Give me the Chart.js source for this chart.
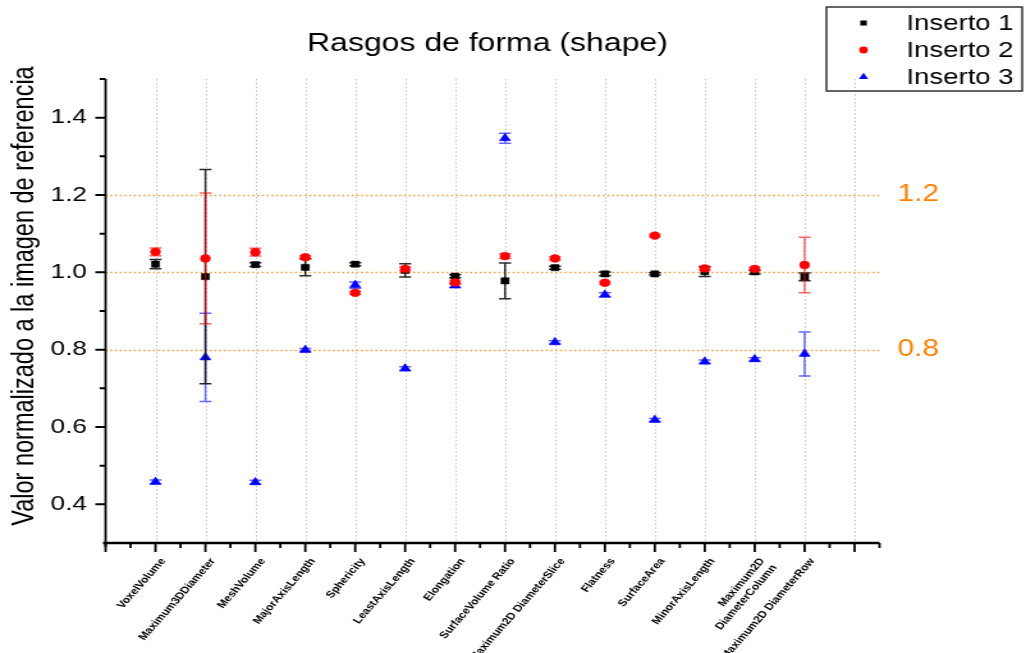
<!DOCTYPE html>
<html>
<head>
<meta charset="utf-8">
<title>Rasgos de forma (shape)</title>
<script src="https://cdn.jsdelivr.net/npm/chart.js@4.4.1/dist/chart.umd.min.js"></script>
<style>
  html, body { margin: 0; padding: 0; background: #fff; overflow: hidden; }
  #wrap { position: absolute; left: 0; top: 0; width: 802px; height: 653px;
          transform: scaleX(1.2793); transform-origin: 0 0; }
  canvas { display: block; }
</style>
</head>
<body>
<div id="wrap"><canvas id="c" width="802" height="653"></canvas></div>
<script>
// Shape features (x axis categories)
const categories = [
  'VoxelVolume', 'Maximum3DDiameter', 'MeshVolume', 'MajorAxisLength', 'Sphericity',
  'LeastAxisLength', 'Elongation', 'SurfaceVolume Ratio', 'Maximum2D DiameterSlice',
  'Flatness', 'SurfaceArea', 'MinorAxisLength', ['Maximum2D', 'DiameterColumn'],
  'Maximum2D DiameterRow'
];

const seriesNames = ['Inserto 1', 'Inserto 2', 'Inserto 3'];

// Values normalised to the reference image, with their error
const inserto1    = [1.021, 0.989, 1.020, 1.013, 1.021, 1.005, 0.990, 0.978, 1.012, 0.996, 0.996, 1.002, 1.001, 0.988];
const inserto1Err = [0.012, 0.277, 0.005, 0.022, 0.004, 0.017, 0.004, 0.046, 0.004, 0.005, 0.003, 0.013, 0.005, 0.010];

const inserto2    = [1.053, 1.036, 1.052, 1.039, 0.947, 1.009, 0.974, 1.042, 1.036, 0.973, 1.095, 1.010, 1.009, 1.019];
const inserto2Err = [0.010, 0.169, 0.010, 0.004, 0.004, 0.005, 0.005, 0.006, 0.004, 0.003, 0.003, 0.004, 0.004, 0.072];

const inserto3    = [0.458, 0.780, 0.457, 0.799, 0.967, 0.751, 0.966, 1.347, 0.819, 0.942, 0.618, 0.769, 0.775, 0.789];
const inserto3Err = [0.005, 0.114, 0.005, 0.004, 0.008, 0.005, 0.005, 0.013, 0.004, 0.005, 0.004, 0.004, 0.004, 0.057];

// Axis ticks and reference lines
const yTickValues  = [0.3, 0.4, 0.5, 0.6, 0.7, 0.8, 0.9, 1.0, 1.1, 1.2, 1.3, 1.4, 1.5];
const yLabelValues = [0.4, 0.6, 0.8, 1.0, 1.2, 1.4];
const refLines  = [0.8, 1.0, 1.2];
const refLabels = [0.8, 1.2];

const chartTitle = 'Rasgos de forma (shape)';
const yTitle = 'Valor normalizado a la imagen de referencia';

const FONT = "'Liberation Sans', Arial, Helvetica, sans-serif";
const ORANGE_TEXT = '#ff8000';
const ORANGE_LINE = '#fa9f45';

const toPoints = vals => vals.map((v, i) => ({ x: i + 1, y: v }));

function dotted(ctx, x1, y1, x2, y2, color, width, dash) {
  ctx.save();
  ctx.strokeStyle = color;
  ctx.lineWidth = width;
  ctx.setLineDash(dash);
  ctx.beginPath();
  ctx.moveTo(x1, y1);
  ctx.lineTo(x2, y2);
  ctx.stroke();
  ctx.restore();
}

const decorations = {
  id: 'decorations',
  beforeDatasetsDraw(chart) {
    const { ctx, chartArea: a, scales: { x, y } } = chart;
    // vertical dotted grid at each category slot
    for (let i = 1; i <= 15; i++) {
      const px = Math.round(x.getPixelForValue(i)) + 0.5;
      dotted(ctx, px, a.top, px, a.bottom, '#c4c4c4', 1, [1.6, 2.2]);
    }
    // orange reference lines
    refLines.forEach(v => {
      const py = Math.round(y.getPixelForValue(v)) + 0.5;
      dotted(ctx, a.left, py, a.right, py, ORANGE_LINE, 1.3, [1.6, 2.1]);
    });
  },
  beforeDatasetDraw(chart, args) {
    const ds = chart.data.datasets[args.index];
    const { ctx, scales: { x, y } } = chart;
    ctx.save();
    ctx.strokeStyle = ds.errorColor;
    ctx.lineWidth = 1.5;
    const cap = 4.7;
    ds.data.forEach((p, i) => {
      const e = ds.errors[i];
      const px = x.getPixelForValue(p.x);
      const yt = y.getPixelForValue(p.y + e);
      const yb = y.getPixelForValue(p.y - e);
      ctx.beginPath();
      ctx.moveTo(px, yt); ctx.lineTo(px, yb);
      ctx.moveTo(px - cap, yt); ctx.lineTo(px + cap, yt);
      ctx.moveTo(px - cap, yb); ctx.lineTo(px + cap, yb);
      ctx.stroke();
    });
    ctx.restore();
  },
  afterDraw(chart) {
    const { ctx, chartArea: a, scales: { x, y } } = chart;
    ctx.save();
    ctx.strokeStyle = '#000';
    // x axis line with major / minor ticks
    ctx.lineWidth = 2.5;
    ctx.beginPath();
    ctx.moveTo(a.left - 2, a.bottom); ctx.lineTo(a.right, a.bottom);
    ctx.stroke();
    ctx.lineWidth = 1.8;
    ctx.beginPath();
    for (let k = 0; k <= 31; k++) {
      const v = k / 2;
      const px = x.getPixelForValue(v);
      const len = k % 2 === 0 ? 9 : 5;
      ctx.moveTo(px, a.bottom); ctx.lineTo(px, a.bottom + len);
    }
    ctx.stroke();
    // y axis line with major / minor ticks
    ctx.lineWidth = 1.8;
    ctx.beginPath();
    ctx.moveTo(a.left, a.top); ctx.lineTo(a.left, a.bottom + 4);
    ctx.stroke();
    ctx.lineWidth = 2;
    ctx.beginPath();
    yTickValues.forEach(v => {
      if (v < 0.35) return;
      const py = y.getPixelForValue(v);
      const major = yLabelValues.some(m => Math.abs(m - v) < 1e-6);
      ctx.moveTo(a.left, py); ctx.lineTo(a.left - (major ? 8 : 4.6), py);
    });
    ctx.stroke();

    // chart title
    ctx.fillStyle = '#000';
    ctx.font = `25px ${FONT}`;
    ctx.textAlign = 'center';
    ctx.textBaseline = 'alphabetic';
    ctx.fillText(chartTitle, 381, 51);

    // y axis title
    ctx.save();
    ctx.translate(26, 296);
    ctx.rotate(-Math.PI / 2);
    ctx.font = `23.5px ${FONT}`;
    ctx.textAlign = 'center';
    ctx.textBaseline = 'alphabetic';
    ctx.fillText(yTitle, 0, 0);
    ctx.restore();

    // legend
    const bx = 646, by = 7, bw = 153, bh = 84;
    ctx.lineWidth = 1.5;
    ctx.strokeStyle = '#333';
    ctx.strokeRect(bx, by, bw, bh);
    ctx.font = `21.5px ${FONT}`;
    ctx.textAlign = 'left';
    ctx.textBaseline = 'middle';
    chart.data.datasets.forEach((ds, i) => {
      const ly = 23 + i * 27;
      ctx.fillStyle = ds.backgroundColor;
      Chart.helpers.drawPoint(ctx, { pointStyle: ds.pointStyle, radius: ds.legendRadius, borderWidth: 0, rotation: 0 }, 675, ly);
      ctx.fillStyle = '#000';
      ctx.fillText(ds.label, 708.6, ly + 1);
    });
    ctx.restore();
  }
};

const datasets = [
  { label: seriesNames[0], data: toPoints(inserto1), errors: inserto1Err, errorColor: 'rgba(20,20,20,0.9)',
    pointStyle: 'rect', pointRadius: 4.4, legendRadius: 3.6, backgroundColor: '#000', borderColor: '#000', order: 1 },
  { label: seriesNames[1], data: toPoints(inserto2), errors: inserto2Err, errorColor: 'rgba(255,0,0,0.6)',
    pointStyle: 'circle', pointRadius: 3.9, legendRadius: 3.4, backgroundColor: '#ff0000', borderColor: '#ff0000', order: 0 },
  { label: seriesNames[2], data: toPoints(inserto3), errors: inserto3Err, errorColor: 'rgba(0,0,255,0.6)',
    pointStyle: 'triangle', pointRadius: 5, legendRadius: 4.2, backgroundColor: '#0000ff', borderColor: '#0000ff', order: 2 }
].map(d => Object.assign({ showLine: false, borderWidth: 0.5, pointHoverRadius: d.pointRadius }, d));

new Chart(document.getElementById('c'), {
  type: 'scatter',
  data: { datasets },
  plugins: [decorations],
  options: {
    responsive: false,
    animation: false,
    devicePixelRatio: 1,
    events: [],
    layout: { padding: { top: 79, left: 0, right: 0, bottom: 0 }, autoPadding: false },
    plugins: { legend: { display: false }, tooltip: { enabled: false }, title: { display: false } },
    scales: {
      x: {
        type: 'linear', position: 'bottom', min: 0, max: 15.5,
        grid: { display: false, tickLength: 9 }, border: { display: false },
        afterBuildTicks: s => { s.ticks = categories.map((_, i) => ({ value: i + 1 })); },
        afterFit: s => { s.height = 110; s.paddingLeft = 0; s.paddingRight = 0; },
        ticks: {
          autoSkip: false, minRotation: 55, maxRotation: 55, padding: 4, labelOffset: 6,
          color: '#000', font: { family: FONT, size: 9.6, weight: 'bold' },
          callback: v => categories[Math.round(v) - 1] ?? ''
        }
      },
      y: {
        type: 'linear', position: 'left', min: 0.3, max: 1.5,
        grid: { display: false, tickLength: 8 }, border: { display: false },
        afterBuildTicks: s => { s.ticks = yTickValues.map(v => ({ value: v })); },
        afterFit: s => { s.width = 82.5; },
        ticks: {
          padding: 6.5, color: '#000', font: { family: FONT, size: 20.5 },
          callback: v => yLabelValues.some(m => Math.abs(m - v) < 1e-6) ? v.toFixed(1) : ''
        }
      },
      y2: {
        type: 'linear', position: 'right', min: 0.3, max: 1.5,
        grid: { display: false, tickLength: 0 }, border: { display: false },
        afterBuildTicks: s => { s.ticks = refLabels.map(v => ({ value: v })); },
        afterFit: s => { s.width = 114.5; },
        ticks: { padding: 14, color: ORANGE_TEXT, font: { family: FONT, size: 23.5 }, callback: v => v.toFixed(1) }
      }
    }
  }
});
</script>
</body>
</html>
